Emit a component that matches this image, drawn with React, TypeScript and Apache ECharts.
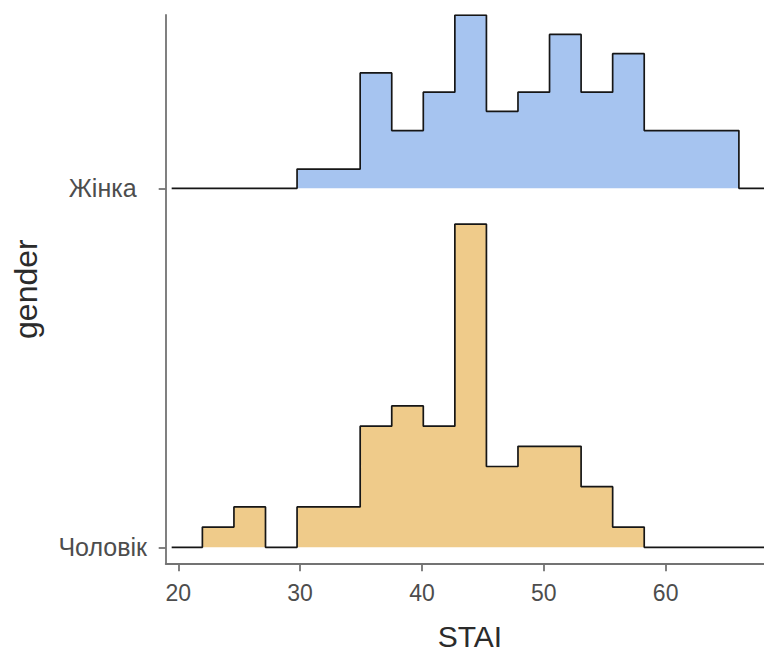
import React, { useEffect, useRef } from "react";
import * as echarts from "echarts";

// Groups (bottom to top) and their baseline positions on the y scale
const groups = ["Чоловік", "Жінка"];
const groupFills = ["#efcb8a", "#a6c4f0"];

// Shared histogram bins on STAI
const binMin = 21.98;
const binWidth = 2.59;

// Counts per bin (Чоловік starts at bin 0, Жінка at bin 3)
const maleStartBin = 0;
const maleCounts = [1, 2, 0, 2, 2, 6, 7, 6, 16, 4, 5, 5, 3, 1];
const femaleStartBin = 3;
const femaleCounts = [1, 1, 6, 3, 5, 9, 4, 5, 8, 5, 7, 3, 3, 3];

// Extent of the ridge outline along STAI
const lineStart = 19.46;
const lineEnd = 72;

// Axis ticks
const xTicks = [20, 30, 40, 50, 60];
const xTitle = "STAI";
const yTitle = "gender";

const ridgeScale = 0.9;

function buildRidge(counts: number[], startBin: number, base: number, maxDens: number, n: number) {
  const pts: number[][] = [[lineStart, base]];
  let prev = 0;
  counts.forEach((c, k) => {
    const x0 = binMin + (startBin + k) * binWidth;
    const h = ((c / (n * binWidth)) / maxDens) * ridgeScale;
    pts.push([x0, base + prev]);
    pts.push([x0, base + h]);
    prev = h;
  });
  const xe = binMin + (startBin + counts.length) * binWidth;
  pts.push([xe, base + prev]);
  pts.push([xe, base]);
  pts.push([lineEnd, base]);
  return pts;
}

export default function App() {
  const ref = useRef<HTMLDivElement>(null);
  useEffect(() => {
    if (!ref.current) return;
    const chart = echarts.init(ref.current, null, { renderer: "svg" });
    const sum = (a: number[]) => a.reduce((s, v) => s + v, 0);
    const nM = sum(maleCounts);
    const nF = sum(femaleCounts);
    const maxDens = Math.max(
      Math.max(...maleCounts) / (nM * binWidth),
      Math.max(...femaleCounts) / (nF * binWidth)
    );
    const ridges = [
      buildRidge(maleCounts, maleStartBin, 1, maxDens, nM),
      buildRidge(femaleCounts, femaleStartBin, 2, maxDens, nF),
    ];
    const axisColor = "#737373";
    const font = "Liberation Sans, Arial, sans-serif";
    chart.setOption({
      animation: false,
      grid: { left: 165.7, right: 0, top: 15, bottom: 91.7, containLabel: false, outerBoundsMode: "none" },
      xAxis: {
        type: "value",
        min: 18.97,
        max: 68.07,
        name: xTitle,
        nameLocation: "middle",
        nameGap: 58,
        nameTextStyle: {
          fontSize: 30,
          color: "#2b2b2b",
          fontFamily: font,
          padding: [0, 0, 0, 10],
        },
        axisLine: { show: true, lineStyle: { color: axisColor, width: 1.8 } },
        axisTick: { show: true, length: 8, customValues: xTicks, lineStyle: { color: axisColor, width: 1.8 } },
        axisLabel: { customValues: xTicks, fontSize: 23, color: "#4d4d4d", fontFamily: font, margin: 18 },
        splitLine: { show: false },
      },
      yAxis: {
        type: "value",
        min: 0.9554,
        max: 2.4827,
        name: yTitle,
        nameLocation: "middle",
        nameGap: 124,
        nameTextStyle: { fontSize: 32, color: "#2b2b2b", fontFamily: font },
        axisLine: { show: true, lineStyle: { color: axisColor, width: 1.8 } },
        axisTick: { show: true, length: 7, customValues: [1, 2], lineStyle: { color: axisColor, width: 1.8 } },
        axisLabel: {
          customValues: [1, 2],
          formatter: (v: number) => groups[Math.round(v) - 1],
          fontSize: 25,
          color: "#4d4d4d",
          fontFamily: font,
          align: "center",
          margin: 63,
        },
        splitLine: { show: false },
      },
      series: ridges.map((pts, i) => ({
        type: "line",
        data: pts,
        showSymbol: false,
        symbol: "none",
        clip: true,
        lineStyle: { color: "#161616", width: 1.7 },
        areaStyle: { color: groupFills[i], opacity: 1, origin: i + 1 },
        z: 2 + i,
      })),
    });
    return () => chart.dispose();
  }, []);
  return (
    <div
      ref={ref}
      style={{ position: "fixed", left: 0, top: 0, width: 764, height: 655, background: "#ffffff" }}
    />
  );
}
